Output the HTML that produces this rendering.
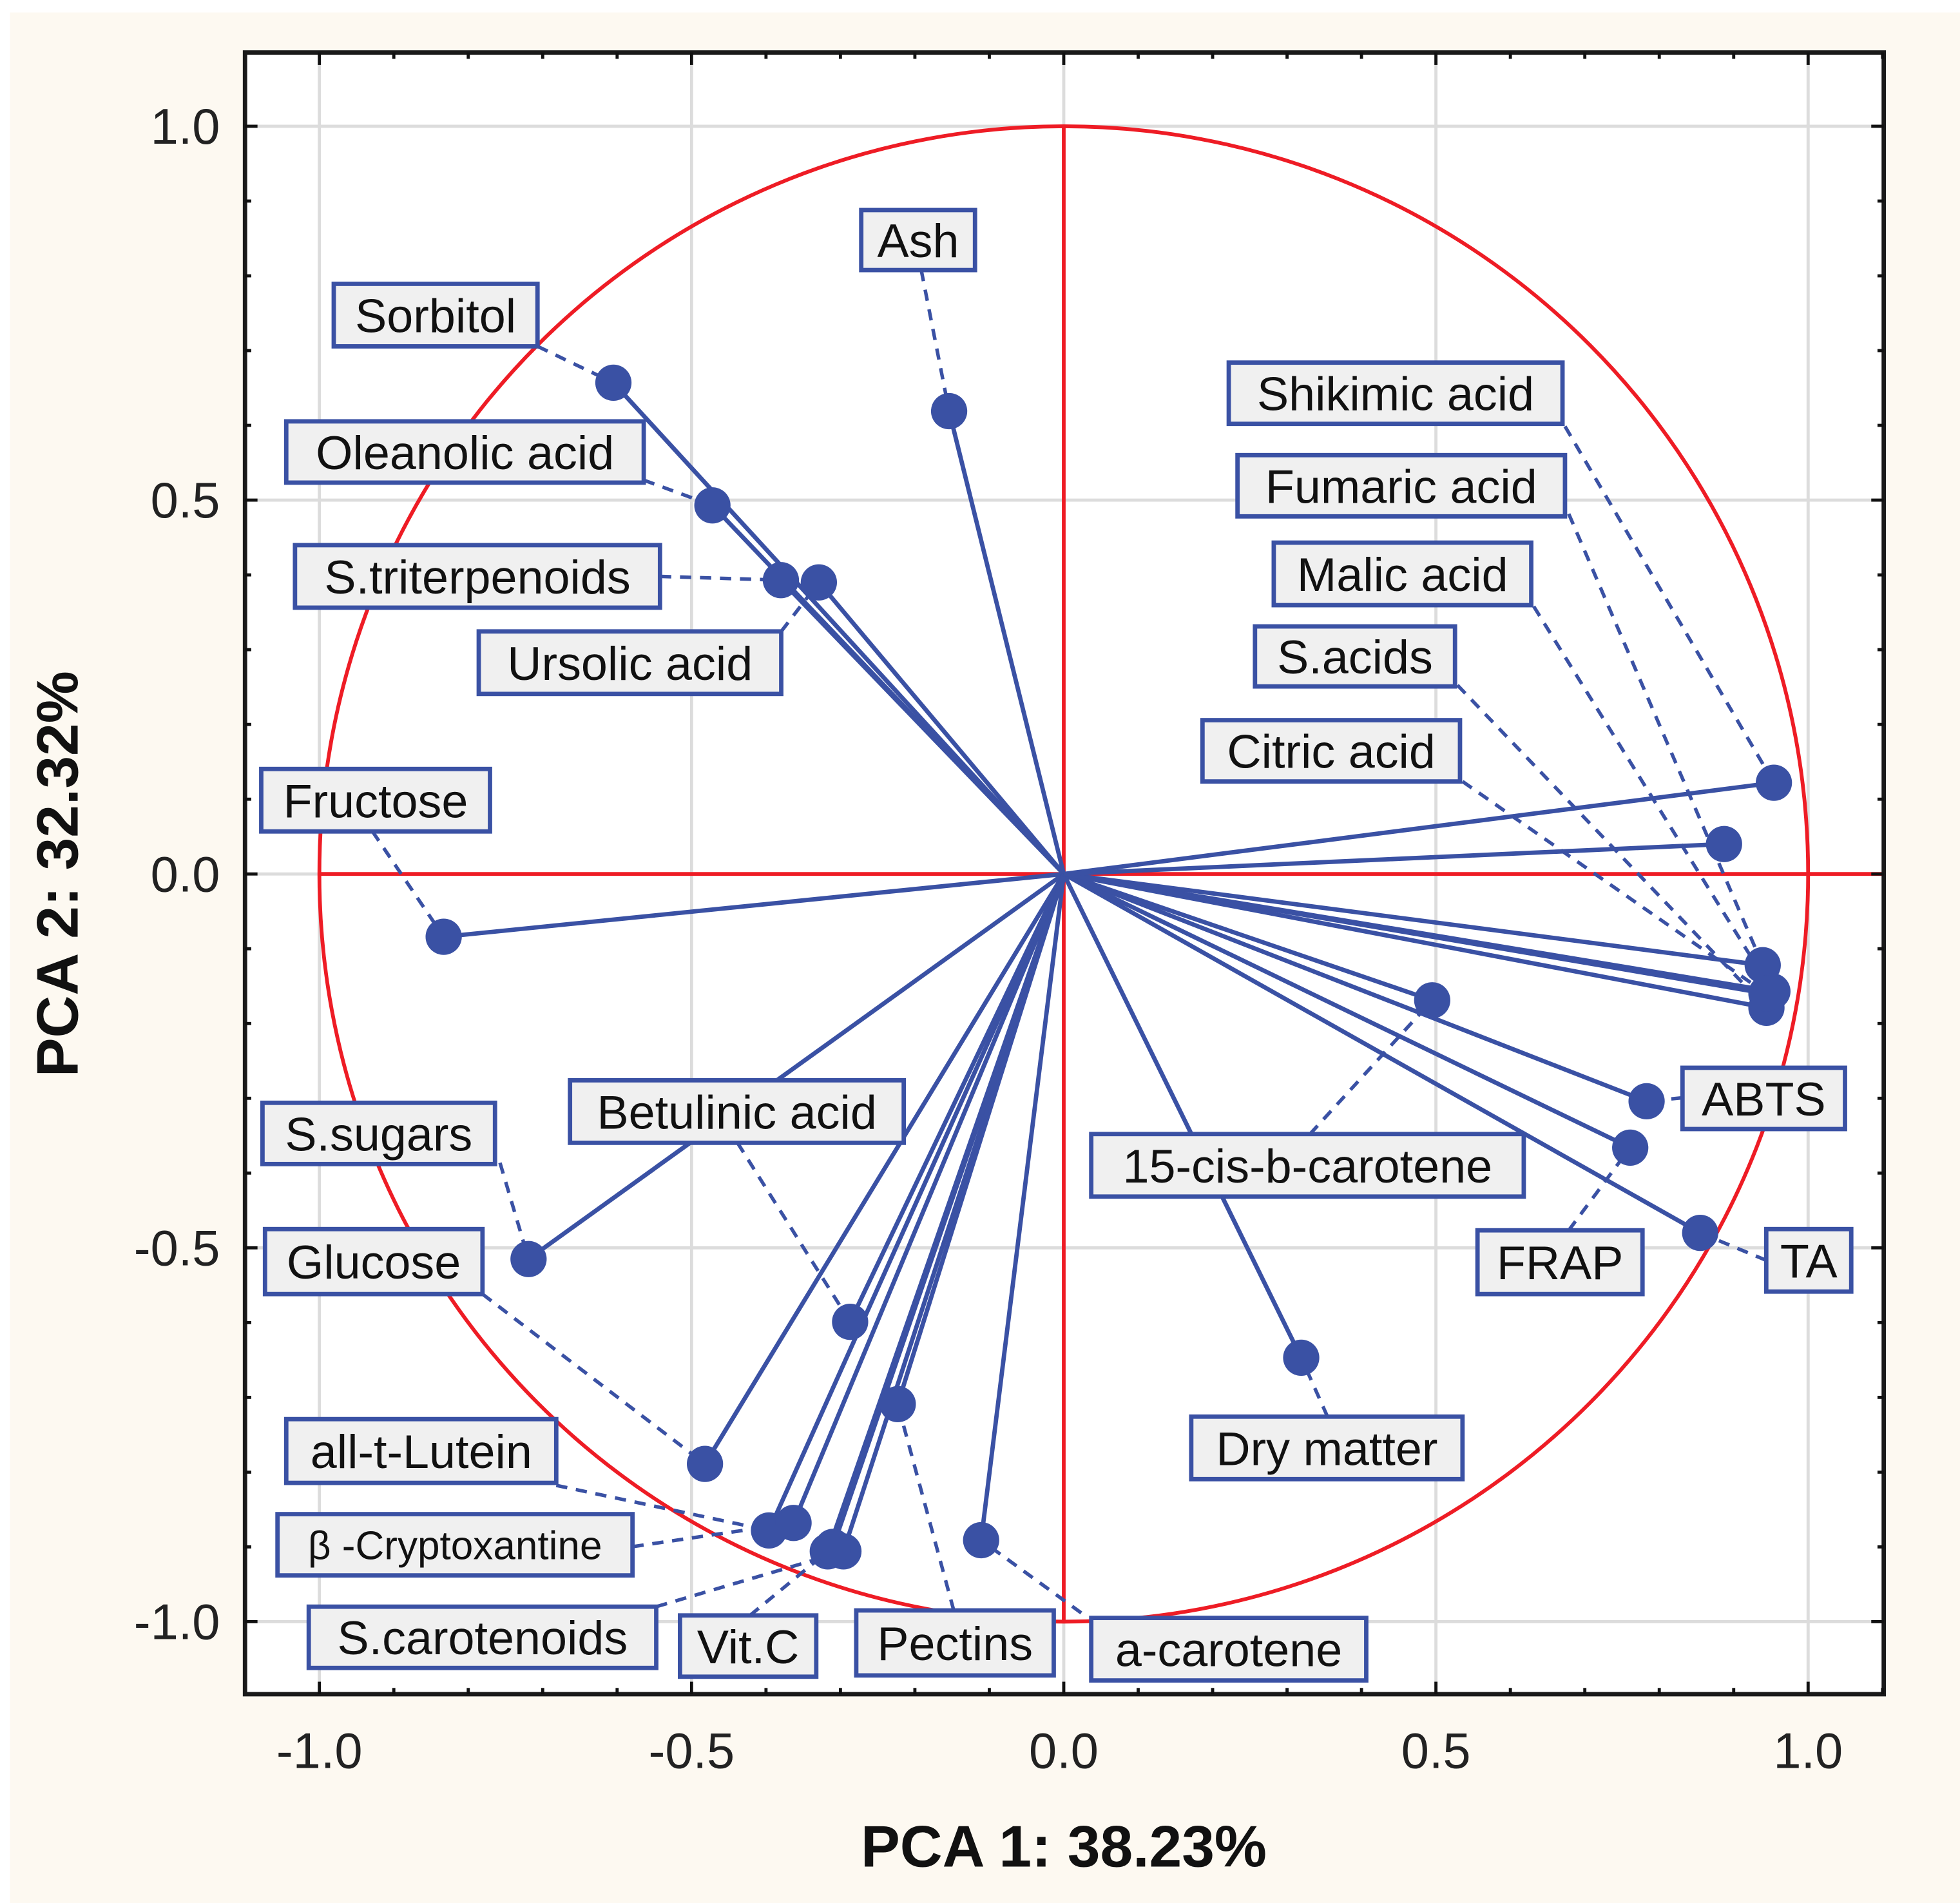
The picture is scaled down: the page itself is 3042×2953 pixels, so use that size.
<!DOCTYPE html>
<html><head><meta charset="utf-8"><style>
html,body{margin:0;padding:0;background:#fff;}
svg{display:block;}
text{font-family:"Liberation Sans",sans-serif;}
</style></head><body>
<svg id="chart" width="3042" height="2953" viewBox="0 0 1568 1522" preserveAspectRatio="none" xmlns="http://www.w3.org/2000/svg">
<rect x="8" y="10" width="1560" height="1512" fill="#fdf9f1"/>
<rect x="196" y="42" width="1311" height="1313" fill="#fff"/>
<g id="grid"></g>
<g id="ref"></g>
<g id="leaders"></g>
<g id="vectors"></g>
<g id="labels"></g>
<rect x="196" y="42" width="1311" height="1313" fill="none" stroke="#1a1a1a" stroke-width="3.5"/>
<g id="ticks"></g>
<text x="851" y="1493" text-anchor="middle" font-size="47" font-weight="bold" fill="#111">PCA 1: 38.23%</text>
<text transform="translate(62,699) rotate(-90)" text-anchor="middle" font-size="47" font-weight="bold" fill="#111">PCA 2: 32.32%</text>
</svg>
<script>
const names = ["Sorbitol","Oleanolic acid","S.triterpenoids","Ursolic acid","Ash","Fructose","S.sugars","Glucose","all-t-Lutein","Betulinic acid","β -Cryptoxantine","Vit.C","S.carotenoids","(unlabeled)","Pectins","a-carotene","Dry matter","15-cis-b-carotene","ABTS","FRAP","TA","Shikimic acid","Fumaric acid","Malic acid","S.acids","Citric acid","(unlabeled 2)"];
const pc1 = [-0.605,-0.472,-0.380,-0.329,-0.154,-0.833,-0.719,-0.482,-0.396,-0.287,-0.363,-0.317,-0.296,-0.310,-0.223,-0.111,0.319,0.495,0.783,0.761,0.855,0.954,0.939,0.952,0.944,0.944,0.887];
const pc2 = [0.657,0.493,0.393,0.390,0.619,-0.084,-0.515,-0.789,-0.878,-0.599,-0.868,-0.906,-0.906,-0.900,-0.709,-0.891,-0.647,-0.169,-0.304,-0.366,-0.480,0.122,-0.122,-0.157,-0.179,-0.160,0.040];
const tickVals = [-1.0,-0.5,0.0,0.5,1.0];
const tickLabels = ["-1.0","-0.5","0.0","0.5","1.0"];

const boxes = {
"Sorbitol":[267,227,430,277,430,277,38],
"Oleanolic acid":[229,337,515,386,515,384,38],
"S.triterpenoids":[236,436,528,486,528,461,38],
"Ursolic acid":[383,505,625,555,625,505,38],
"Ash":[689,168,780,216,737,216,38],
"Fructose":[209,615,392,665,298,665,38],
"S.sugars":[210,882,396,931,400,930,38],
"Glucose":[212,983,386,1035,386,1035,38],
"all-t-Lutein":[229,1135,445,1186,445,1188,38],
"Betulinic acid":[456,864,723,914,590,914,38],
"β -Cryptoxantine":[222,1211,506,1260,506,1237,32],
"Vit.C":[544,1292,653,1341,600,1292,38],
"S.carotenoids":[247,1285,525,1334,525,1285,38],
"Pectins":[685,1288,843,1340,763,1288,38],
"a-carotene":[873,1294,1093,1344,865,1290,38],
"Dry matter":[953,1133,1170,1183,1062,1133,38],
"15-cis-b-carotene":[873,907,1219,957,1048,907,38],
"ABTS":[1346,854,1476,903,1346,878,38],
"FRAP":[1182,984,1314,1035,1255,984,38],
"TA":[1413,983,1481,1033,1413,1008,38],
"Shikimic acid":[983,290,1250,339,1252,341,38],
"Fumaric acid":[990,364,1252,413,1255,411,38],
"Malic acid":[1019,434,1225,484,1227,485,38],
"S.acids":[1004,501,1164,549,1166,548,38],
"Citric acid":[962,576,1168,625,1170,625,38]
};
const NS="http://www.w3.org/2000/svg";
const X0=851, XS=595.5, Y0=699, YS=598;
function sx(v){return X0+v*XS;}
function sy(v){return Y0-v*YS;}
function mk(tag,attrs,parent){const e=document.createElementNS(NS,tag);for(const k in attrs)e.setAttribute(k,attrs[k]);parent.appendChild(e);return e;}
const grid=document.getElementById('grid'), ref=document.getElementById('ref'), ticks=document.getElementById('ticks');
const vec=document.getElementById('vectors'), lead=document.getElementById('leaders'), lab=document.getElementById('labels');
tickVals.forEach((v,i)=>{
  const gx=mk('line',{x1:sx(v),x2:sx(v),y1:42,y2:1355,stroke:'#dcdcdc','stroke-width':2.5},grid);
  
  
  const gy=mk('line',{x1:196,x2:1507,y1:sy(v),y2:sy(v),stroke:'#dcdcdc','stroke-width':2.5},grid);
  
  
  const tx=mk('text',{x:sx(v),y:1414,'text-anchor':'middle','font-size':40,fill:'#222'},ticks);
  tx.textContent=tickLabels[i];
  
  
  const ty=mk('text',{x:176,y:sy(v)+14,'text-anchor':'end','font-size':40,fill:'#222'},ticks);
  ty.textContent=tickLabels[i];
  
  
});
for(let k=-11;k<=11;k++){
  const v=k/10, big=(k%5===0);
  const L=big?10:5;
  if(sx(v)>196&&sx(v)<1507){
    mk('line',{x1:sx(v),x2:sx(v),y1:42,y2:42+L,stroke:'#111','stroke-width':2.5},ticks);
    mk('line',{x1:sx(v),x2:sx(v),y1:1355,y2:1355-L,stroke:'#111','stroke-width':2.5},ticks);
  }
  if(sy(v)>42&&sy(v)<1355){
    mk('line',{x1:196,x2:196+L,y1:sy(v),y2:sy(v),stroke:'#111','stroke-width':2.5},ticks);
    mk('line',{x1:1507,x2:1507-L,y1:sy(v),y2:sy(v),stroke:'#111','stroke-width':2.5},ticks);
  }
}
const circ=mk('ellipse',{cx:sx(0),cy:sy(0),rx:XS,ry:YS,fill:'none',stroke:'#ee1c25','stroke-width':3},ref);


const hl=mk('line',{x1:sx(-1),x2:1507,y1:sy(0),y2:sy(0),stroke:'#ee1c25','stroke-width':3},ref);


const vl=mk('line',{x1:sx(0),x2:sx(0),y1:sy(1),y2:sy(-1),stroke:'#ee1c25','stroke-width':3},ref);


const C='#3a51a4';
names.forEach((n,i)=>{
  const px=sx(pc1[i]), py=sy(pc2[i]);
  const ln=mk('line',{x1:sx(0),y1:sy(0),x2:px,y2:py,stroke:C,'stroke-width':3.5},vec);
  
  
  const dot=mk('circle',{cx:px,cy:py,r:14.5,fill:C},vec);
  
  
  const b=boxes[n];
  if(b){
    const d=mk('line',{x1:b[4],y1:b[5],x2:px,y2:py,stroke:C,'stroke-width':2.8,'stroke-dasharray':'9 7'},lead);
    
    
    const r=mk('rect',{x:b[0],y:b[1],width:b[2]-b[0],height:b[3]-b[1],fill:'#f0f0f0',stroke:C,'stroke-width':3.5},lab);
    
    
    const t=mk('text',{x:(b[0]+b[2])/2,y:(b[1]+b[3])/2+b[6]*0.36,'text-anchor':'middle','font-size':b[6],fill:'#111'},lab);
    t.textContent=n;
    
    
  }
});
</script>
</body></html>
